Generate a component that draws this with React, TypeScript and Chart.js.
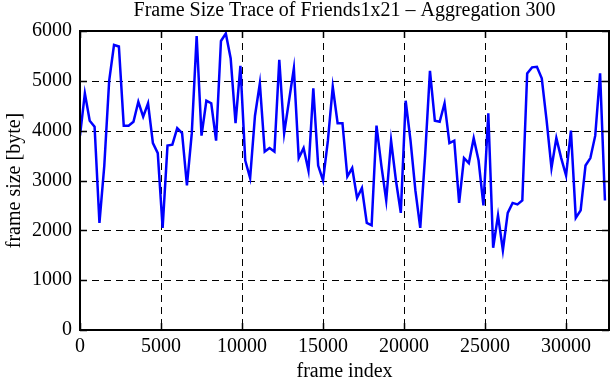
import React, { useEffect, useRef } from "react";
import { Chart, registerables } from "chart.js";

Chart.register(...registerables);

const chartTitle = "Frame Size Trace of Friends1x21 \u2013 Aggregation 300";
const xTitle = "frame index";
const yTitle = "frame size [byte]";

const frameIdx = [
  0, 300, 600, 900, 1200, 1500, 1800, 2100, 2400, 2700,
  3000, 3300, 3600, 3900, 4200, 4500, 4800, 5100, 5400, 5700,
  6000, 6300, 6600, 6900, 7200, 7500, 7800, 8100, 8400, 8700,
  9000, 9300, 9600, 9900, 10200, 10500, 10800, 11100, 11400, 11700,
  12000, 12300, 12600, 12900, 13200, 13500, 13800, 14100, 14400, 14700,
  15000, 15300, 15600, 15900, 16200, 16500, 16800, 17100, 17400, 17700,
  18000, 18300, 18600, 18900, 19200, 19500, 19800, 20100, 20400, 20700,
  21000, 21300, 21600, 21900, 22200, 22500, 22800, 23100, 23400, 23700,
  24000, 24300, 24600, 24900, 25200, 25500, 25800, 26100, 26400, 26700,
  27000, 27300, 27600, 27900, 28200, 28500, 28800, 29100, 29400, 29700,
  30000, 30300, 30600, 30900, 31200, 31500, 31800, 32100, 32400,
];

const frameSize = [
  3900, 4750, 4200, 4080, 2150, 3300, 5000, 5720, 5690, 4100,
  4100, 4180, 4580, 4280, 4550, 3750, 3550, 2050, 3700, 3720,
  4050, 3950, 2900, 3950, 5900, 3900, 4600, 4550, 3800, 5800,
  5950, 5450, 4150, 5300, 3400, 3050, 4300, 4950, 3580, 3650,
  3580, 5420, 3950, 4600, 5250, 3450, 3650, 3200, 4850, 3300,
  3000, 3800, 4880, 4150, 4150, 3080, 3250, 2650, 2850, 2150,
  2100, 4100, 3300, 2600, 3800, 3000, 2350, 4600, 3800, 2800,
  2050, 3500, 5200, 4200, 4180, 4550, 3750, 3800, 2550, 3450,
  3350, 3850, 3400, 2500, 4350, 1650, 2300, 1600, 2350, 2550,
  2520, 2600, 5150, 5270, 5280, 5050, 4200, 3250, 3850, 3450,
  3100, 4000, 2250, 2400, 3300, 3450, 3900, 5150, 2600,
];

const xTicks = [0, 5000, 10000, 15000, 20000, 25000, 30000];
const yTicks = [0, 1000, 2000, 3000, 4000, 5000, 6000];
const xMin = 0;
const xMax = 32650;
const yMin = 0;
const yMax = 6000;

const FONT = "'Liberation Serif', 'DejaVu Serif', serif";

const framePlugin = {
  id: "gnuplotFrame",
  beforeDatasetsDraw(chart: any) {
    const { ctx, chartArea } = chart;
    const { left, right, top, bottom } = chartArea;
    const xs = chart.scales.x;
    const ys = chart.scales.y;
    ctx.save();
    ctx.strokeStyle = "#000";
    ctx.lineWidth = 1;
    ctx.setLineDash([7, 5]);
    xTicks.forEach((v) => {
      const px = Math.round(xs.getPixelForValue(v)) + 0.5;
      if (px <= left + 2 || px >= right - 2) return;
      ctx.beginPath();
      ctx.moveTo(px, top);
      ctx.lineTo(px, bottom);
      ctx.stroke();
    });
    yTicks.forEach((v) => {
      const py = Math.round(ys.getPixelForValue(v)) + 0.5;
      if (py <= top + 2 || py >= bottom - 2) return;
      ctx.beginPath();
      ctx.moveTo(left, py);
      ctx.lineTo(right, py);
      ctx.stroke();
    });
    ctx.restore();
  },
  afterDatasetsDraw(chart: any) {
    const { ctx, chartArea } = chart;
    const { left, right, top, bottom } = chartArea;
    const xs = chart.scales.x;
    const ys = chart.scales.y;
    const tl = 7;
    ctx.save();
    ctx.strokeStyle = "#000";
    ctx.setLineDash([]);
    ctx.lineWidth = 1.5;
    xTicks.forEach((v) => {
      const px = Math.round(xs.getPixelForValue(v)) + 0.5;
      ctx.beginPath();
      ctx.moveTo(px, bottom);
      ctx.lineTo(px, bottom - tl);
      ctx.moveTo(px, top);
      ctx.lineTo(px, top + tl);
      ctx.stroke();
    });
    yTicks.forEach((v) => {
      const py = Math.round(ys.getPixelForValue(v)) + 0.5;
      ctx.beginPath();
      ctx.moveTo(left, py);
      ctx.lineTo(left + tl, py);
      ctx.moveTo(right, py);
      ctx.lineTo(right - tl, py);
      ctx.stroke();
    });
    ctx.lineWidth = 2;
    ctx.strokeRect(left, top, right - left, bottom - top);
    ctx.restore();
  },
};

export default function App() {
  const ref = useRef<HTMLCanvasElement | null>(null);

  useEffect(() => {
    document.body.style.margin = "0";
    const canvas = ref.current;
    if (!canvas) return;
    const chart = new Chart(canvas, {
      type: "line",
      data: {
        datasets: [
          {
            data: frameIdx.map((f, i) => ({ x: f, y: frameSize[i] })),
            borderColor: "#0000ff",
            borderWidth: 2.5,
            pointRadius: 0,
            tension: 0,
            fill: false,
          },
        ],
      },
      options: {
        animation: false,
        responsive: false,
        maintainAspectRatio: false,
        layout: { padding: { top: 0, right: 2, bottom: 0, left: 0 } },
        plugins: {
          legend: { display: false },
          tooltip: { enabled: false },
          title: {
            display: true,
            fullSize: false,
            text: chartTitle,
            color: "#000",
            font: { family: FONT, size: 20, weight: "normal", lineHeight: "22px" },
            padding: { top: 0, bottom: 9 },
          },
        },
        scales: {
          x: {
            type: "linear",
            min: xMin,
            max: xMax,
            grid: { display: false, drawTicks: false },
            border: { display: false },
            afterBuildTicks: (s: any) => {
              s.ticks = xTicks.map((v) => ({ value: v }));
            },
            afterFit: (s: any) => {
              s.height = 50;
            },
            ticks: {
              autoSkip: false,
              maxRotation: 0,
              padding: 5,
              color: "#000",
              font: { family: FONT, size: 20 },
              callback: (v: any) => String(v),
            },
            title: {
              display: true,
              text: xTitle,
              color: "#000",
              font: { family: FONT, size: 20, lineHeight: "16px" },
              padding: { top: 0, bottom: 0 },
            },
          },
          y: {
            type: "linear",
            min: yMin,
            max: yMax,
            grid: { display: false, drawTicks: false },
            border: { display: false },
            afterBuildTicks: (s: any) => {
              s.ticks = yTicks.map((v) => ({ value: v }));
            },
            afterFit: (s: any) => {
              s.width = 80;
            },
            ticks: {
              autoSkip: false,
              padding: 8,
              color: "#000",
              font: { family: FONT, size: 20 },
              callback: (v: any) => String(v),
            },
            title: {
              display: true,
              text: yTitle,
              color: "#000",
              font: { family: FONT, size: 20, lineHeight: 1.2 },
              padding: { top: 3, bottom: 0 },
            },
          },
        },
      },
      plugins: [framePlugin],
    });
    return () => chart.destroy();
  }, []);

  return (
    <div style={{ width: 611, height: 380 }}>
      <canvas ref={ref} width={611} height={380} style={{ display: "block" }} />
    </div>
  );
}
